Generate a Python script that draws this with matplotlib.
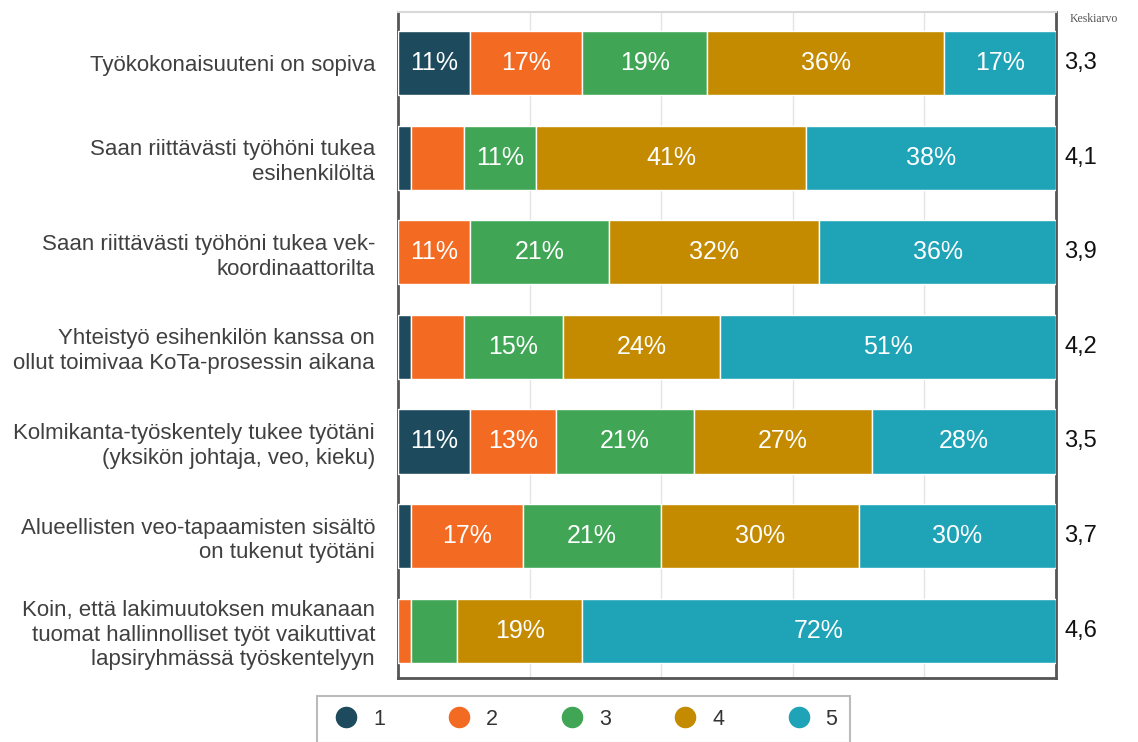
import matplotlib
matplotlib.use("Agg")
import matplotlib.pyplot as plt
from matplotlib.lines import Line2D
import numpy as np

plt.rcParams['font.family'] = ['Liberation Sans', 'DejaVu Sans']

categories = [
    "Työkokonaisuuteni on sopiva",
    "Saan riittävästi työhöni tukea\nesihenkilöltä",
    "Saan riittävästi työhöni tukea vek-\nkoordinaattorilta",
    "Yhteistyö esihenkilön kanssa on\nollut toimivaa KoTa-prosessin aikana",
    "Kolmikanta-työskentely tukee työtäni\n(yksikön johtaja, veo, kieku)",
    "Alueellisten veo-tapaamisten sisältö\non tukenut työtäni",
    "Koin, että lakimuutoksen mukanaan\ntuomat hallinnolliset työt vaikuttivat\nlapsiryhmässä työskentelyyn",
]
series_names = ["1", "2", "3", "4", "5"]
s1 = [11, 2, 0, 2, 11, 2, 0]
s2 = [17, 8, 11, 8, 13, 17, 2]
s3 = [19, 11, 21, 15, 21, 21, 7]
s4 = [36, 41, 32, 24, 27, 30, 19]
s5 = [17, 38, 36, 51, 28, 30, 72]
means = ["3,3", "4,1", "3,9", "4,2", "3,5", "3,7", "4,6"]
colors = ["#1d4a5c", "#f36a22", "#40a655", "#c48b00", "#1fa3b7"]

series = [s1, s2, s3, s4, s5]

fig = plt.figure(figsize=(11.38, 7.42), dpi=100)
ax = fig.add_axes([398/1138, 1-678/742, (1056-398)/1138, (678-12)/742])

y = np.arange(len(categories))
left = np.zeros(len(categories))
for vals, col in zip(series, colors):
    vals = np.array(vals, dtype=float)
    ax.barh(y, vals, left=left, height=0.68, color=col, edgecolor="white", linewidth=1.0, zorder=3)
    for yi, (l, v) in enumerate(zip(left, vals)):
        if v >= 10:
            ax.text(l + v/2, yi, f"{int(v)}%", ha="center", va="center", color="white",
                    fontsize=18, zorder=4)
    left += vals

ax.set_xlim(0, 100)
ax.set_ylim(6.5, -0.54)
ax.set_xticks([20, 40, 60, 80])
ax.xaxis.grid(True, color="#e4e4e4", linewidth=1.0, zorder=0)
ax.tick_params(axis="x", length=0, labelbottom=False)
ax.tick_params(axis="y", length=0)
ax.set_yticks(y)
ax.set_yticklabels(categories, fontsize=16, color="#404040", ha="right", linespacing=1.24)
ax.tick_params(axis="y", pad=16.5)
for side in ["left", "right", "bottom"]:
    ax.spines[side].set_color("#555555")
    ax.spines[side].set_linewidth(2)
ax.spines["top"].set_color("#d8d8d8")
ax.spines["top"].set_linewidth(1.5)

for yi, m in enumerate(means):
    ax.text(1.013, yi, m, transform=ax.get_yaxis_transform(), ha="left", va="center",
            fontsize=17, color="#111111")
fig.text(1070/1138, 1-19/742, "Keskiarvo", fontsize=8.5, color="#555555",
         family=["Liberation Serif", "DejaVu Serif"], ha="left", va="center")

handles = [Line2D([0], [0], marker="o", linestyle="none", markersize=14.5,
                  markerfacecolor=c, markeredgecolor=c) for c in colors]
leg = fig.legend(handles, series_names, loc="upper left",
                 bbox_to_anchor=(317/1138, 1-696/742), borderaxespad=0, ncol=5, frameon=True,
                 fontsize=15.5, handlelength=1.5, handletextpad=0.5, columnspacing=2.7,
                 borderpad=0.6, fancybox=False, labelcolor="#333333")
leg.get_frame().set_edgecolor("#aaaaaa")
leg.get_frame().set_linewidth(1.5)

fig.savefig("out.png", dpi=100)
